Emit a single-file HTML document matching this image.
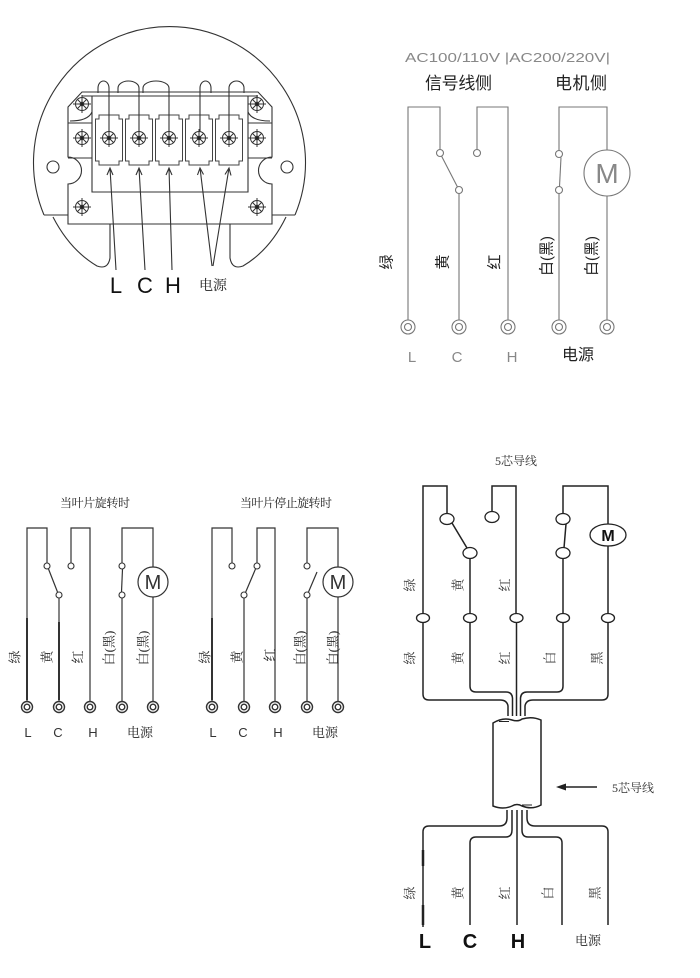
<!DOCTYPE html>
<html><head><meta charset="utf-8"><style>
html,body{margin:0;padding:0;background:#fff;}
svg{display:block;}
.s{font-family:"Liberation Sans","Noto Sans CJK SC",sans-serif;}
.sf{font-family:"Liberation Serif","Noto Serif CJK SC",serif;}
</style></head><body>
<svg width="700" height="978" viewBox="0 0 700 978" xmlns="http://www.w3.org/2000/svg">
<rect width="700" height="978" fill="#fff"/>
<defs>
<g id="sc" stroke="#333" stroke-width="1" fill="none"><circle r="6.5"/><path d="M-9,0H9M0,-9V9M-4.6,-4.6L4.6,4.6M-4.6,4.6L4.6,-4.6"/><circle r="1.8" fill="#222"/></g>
<g id="tb" stroke="#444" stroke-width="1" fill="#fff"><path d="M-10,115H10V119H13.5V161H10V165H-10V161H-13.5V119H-10Z"/></g>
<g id="tr1" stroke="#777" stroke-width="1.1" fill="#fff"><circle r="7"/><circle r="3.5"/></g>
<g id="tr2" stroke="#333" stroke-width="1.4" fill="#fff"><circle r="5.5"/><circle r="2.8"/></g>
</defs>

<!-- ===== TOP LEFT: terminal box ===== -->
<g stroke="#333" stroke-width="1.1" fill="none">
<path d="M44,215 A136,136 0 1 1 295,215"/>
<path d="M44,215H68M295,215H272"/>
<path d="M68,107 L82,92 H258 L272,107 V157 A13.5,13.5 0 0 0 272,184 V224 H68 V184 A13.5,13.5 0 0 0 68,157 Z"/>
<path d="M53,217 Q70,250 97,266 Q108,270 110,258 V224"/>
<path d="M286,217 Q270,250 243,266 Q232,270 230,258 V224"/>
<circle cx="53" cy="167" r="6"/>
<circle cx="287" cy="167" r="6"/>
<path d="M82,96H258M92,96V192H248V96"/>
<path d="M68,123H92M248,123H272M68,158H92M248,158H272"/>
<path d="M70,121 Q88,121 92,112M270,121 Q252,121 248,112"/>
</g>
<use href="#sc" x="82" y="104"/><use href="#sc" x="82" y="138"/><use href="#sc" x="82" y="207"/>
<use href="#sc" x="257" y="104"/><use href="#sc" x="257" y="138"/><use href="#sc" x="257" y="207"/>
<use href="#tb" x="109"/><use href="#tb" x="139"/><use href="#tb" x="169"/><use href="#tb" x="199"/><use href="#tb" x="229"/>
<use href="#sc" x="109" y="138"/><use href="#sc" x="139" y="138"/><use href="#sc" x="169" y="138"/><use href="#sc" x="199" y="138"/><use href="#sc" x="229" y="138"/>
<g stroke="#333" stroke-width="1.1" fill="none">
<path d="M109,132V88 A5.5,7 0 0 0 98,88 V93"/>
<path d="M139,132V88 A10.5,7 0 0 0 118,88 V93"/>
<path d="M169,132V88 A13,7 0 0 0 143,88 V93"/>
<path d="M200,132V88 A5.5,7 0 0 1 211,88 V93"/>
<path d="M229,132V88 A7.5,7 0 0 1 244,88 V93"/>
<!-- arrows -->
<path d="M116,270 L110,168 M107,175 L110,168 L113,175"/>
<path d="M145,270 L139,168 M136,175 L139,168 L142,175"/>
<path d="M172,270 L169,168 M166,175 L169,168 L172,175"/>
<path d="M212,266 L200,168 M197.5,175 L200,168 L203.5,174.5"/>
<path d="M213,266 L229,168 M225,174.5 L229,168 L231,175.5"/>
</g>
<g class="s" fill="#111" font-size="22" text-anchor="middle">
<text x="116" y="293">L</text><text x="145" y="293">C</text><text x="173" y="293">H</text>
</g>
<text class="sf" x="213" y="290" font-size="14" text-anchor="middle" fill="#222">电源</text>

<!-- ===== TOP RIGHT ===== -->
<text class="s" x="405" y="62" font-size="13" fill="#888" textLength="205" lengthAdjust="spacingAndGlyphs">AC100/110V |AC200/220V|</text>
<text class="s" x="425" y="89" font-size="17" fill="#222" textLength="67">信号线侧</text>
<text class="s" x="555" y="89" font-size="17" fill="#222" textLength="52">电机侧</text>
<g stroke="#777" stroke-width="1.1" fill="none">
<path d="M408,320 V107 H440 V149.5"/>
<path d="M441.5,156 L457.5,187"/>
<path d="M459,193.5 V320"/>
<path d="M477,149.5 V107 H508 V320"/>
<path d="M559,150.5 V107 H607 V150"/>
<path d="M561,157.5 L559.5,186.5"/>
<path d="M559,193.5 V320"/>
<path d="M607,196 V320"/>
<circle cx="607" cy="173" r="23"/>
</g>
<g stroke="#777" stroke-width="1.1" fill="#fff">
<circle cx="440" cy="153" r="3.5"/><circle cx="459" cy="190" r="3.5"/><circle cx="477" cy="153" r="3.5"/>
<circle cx="559" cy="154" r="3.5"/><circle cx="559" cy="190" r="3.5"/>
</g>
<text class="s" x="607" y="183" font-size="28" fill="#888" text-anchor="middle" font-weight="300">M</text>
<use href="#tr1" x="408" y="327"/><use href="#tr1" x="459" y="327"/><use href="#tr1" x="508" y="327"/><use href="#tr1" x="559" y="327"/><use href="#tr1" x="607" y="327"/>
<g class="s" font-size="15" fill="#222" text-anchor="middle" dominant-baseline="central">
<text transform="translate(387,262) rotate(-90)">绿</text>
<text transform="translate(443,262) rotate(-90)">黄</text>
<text transform="translate(495,262) rotate(-90)">红</text>
<text transform="translate(547,256) rotate(-90)">白(黑)</text>
<text transform="translate(592,256) rotate(-90)">白(黑)</text>
</g>
<g class="s" font-size="15" fill="#888" text-anchor="middle">
<text x="412" y="362">L</text><text x="457" y="362">C</text><text x="512" y="362">H</text>
</g>
<text class="s" x="578" y="360" font-size="16" fill="#222" text-anchor="middle">电源</text>

<!-- ===== BOTTOM LEFT ===== -->
<text class="sf" x="95" y="507" font-size="12" fill="#222" text-anchor="middle" textLength="70">当叶片旋转时</text>
<g stroke="#333" stroke-width="1.2" fill="none">
<path d="M27,701 V528 H47 V563"/>
<path d="M48.5,569 L57.5,592"/>
<path d="M59,598 V701"/>
<path d="M71,563 V528 H90 V701"/>
<path d="M122,563 V528 H153 V567"/>
<path d="M122.5,569 L121.5,592"/>
<path d="M122,598 V701"/>
<path d="M153,597 V701"/>
<circle cx="153" cy="582" r="15"/>
<path d="M27,618V700M59,622V700" stroke-width="2"/>
</g>
<g stroke="#333" stroke-width="1.1" fill="#fff">
<circle cx="47" cy="566" r="3"/><circle cx="59" cy="595" r="3"/><circle cx="71" cy="566" r="3"/>
<circle cx="122" cy="566" r="3"/><circle cx="122" cy="595" r="3"/>
</g>
<text class="s" x="153" y="589" font-size="20" fill="#333" text-anchor="middle" font-weight="300">M</text>
<use href="#tr2" x="27" y="707"/><use href="#tr2" x="59" y="707"/><use href="#tr2" x="90" y="707"/><use href="#tr2" x="122" y="707"/><use href="#tr2" x="153" y="707"/>
<g class="sf" font-size="13" fill="#222" text-anchor="middle" dominant-baseline="central">
<text transform="translate(15,657) rotate(-90)">绿</text>
<text transform="translate(47,657) rotate(-90)">黄</text>
<text transform="translate(78,657) rotate(-90)">红</text>
<text transform="translate(109,648) rotate(-90)">白(黑)</text>
<text transform="translate(143,648) rotate(-90)">白(黑)</text>
</g>
<g class="s" font-size="13" fill="#333" text-anchor="middle">
<text x="28" y="737">L</text><text x="58" y="737">C</text><text x="93" y="737">H</text>
</g>
<text class="sf" x="140" y="737" font-size="13" fill="#222" text-anchor="middle">电源</text>

<!-- ===== BOTTOM MIDDLE ===== -->
<text class="sf" x="286" y="507" font-size="12" fill="#222" text-anchor="middle" textLength="92">当叶片停止旋转时</text>
<g stroke="#333" stroke-width="1.2" fill="none">
<path d="M212,701 V528 H232 V563"/>
<path d="M244,598 V701"/>
<path d="M245.5,592.5 L255.5,569"/>
<path d="M257,563 V528 H275 V701"/>
<path d="M307,563 V528 H338 V567"/>
<path d="M308.5,592 L317,572"/>
<path d="M307,598 V701"/>
<path d="M338,597 V701"/>
<circle cx="338" cy="582" r="15"/>
<path d="M212,618V700" stroke-width="2"/>
</g>
<g stroke="#333" stroke-width="1.1" fill="#fff">
<circle cx="232" cy="566" r="3"/><circle cx="244" cy="595" r="3"/><circle cx="257" cy="566" r="3"/>
<circle cx="307" cy="566" r="3"/><circle cx="307" cy="595" r="3"/>
</g>
<text class="s" x="338" y="589" font-size="20" fill="#333" text-anchor="middle" font-weight="300">M</text>
<use href="#tr2" x="212" y="707"/><use href="#tr2" x="244" y="707"/><use href="#tr2" x="275" y="707"/><use href="#tr2" x="307" y="707"/><use href="#tr2" x="338" y="707"/>
<g class="sf" font-size="13" fill="#222" text-anchor="middle" dominant-baseline="central">
<text transform="translate(205,657) rotate(-90)">绿</text>
<text transform="translate(237,657) rotate(-90)">黄</text>
<text transform="translate(270,655) rotate(-90)">红</text>
<text transform="translate(300,648) rotate(-90)">白(黑)</text>
<text transform="translate(333,648) rotate(-90)">白(黑)</text>
</g>
<g class="s" font-size="13" fill="#333" text-anchor="middle">
<text x="213" y="737">L</text><text x="243" y="737">C</text><text x="278" y="737">H</text>
</g>
<text class="sf" x="325" y="737" font-size="13" fill="#222" text-anchor="middle">电源</text>

<!-- ===== BOTTOM RIGHT ===== -->
<text class="sf" x="516" y="465" font-size="12" fill="#333" text-anchor="middle">5芯导线</text>
<g stroke="#222" stroke-width="1.5" fill="none">
<path d="M423,614 V486 H447 V513.5"/>
<path d="M452,523 L467,548"/>
<path d="M470,558.5 V614"/>
<path d="M492,511.5 V486 H516 V614"/>
<path d="M563,513.5 V486 H608 V524"/>
<path d="M566,524 L564,548"/>
<path d="M563,558.5 V614"/>
<path d="M608,546 V614"/>
<path d="M423,622 V694 Q423,700 429,700 H500 Q507,700 508,706 V716"/>
<path d="M470,622 V686 Q470,692 476,692 H506 Q512,692 512.5,698 V716"/>
<path d="M516.5,622 V716"/>
<path d="M563,622 V686 Q563,692 557,692 H527 Q521,692 520.5,698 V716"/>
<path d="M608,622 V694 Q608,700 602,700 H533 Q526,700 525,706 V716"/>
<path d="M493,723 Q503,717 512,720 Q518,722 522,719 Q532,716 541,720 V805 Q532,810 522,806 Q517,803 512,806 Q503,810 493,806 Z" fill="#fff"/>
<path d="M499,721.5 H509 M522,805 H532" stroke-width="1"/>
<path d="M507,810 V818 Q507,826 499,826 H429 Q423,826 423,832 V927"/>
<path d="M512,810 V830 Q512,837 506,837 H476 Q470,837 470,843 V925"/>
<path d="M517,810 V925"/>
<path d="M522,810 V830 Q522,837 528,837 H556 Q562,837 562,843 V925"/>
<path d="M527,810 V818 Q527,826 535,826 H602 Q608,826 608,832 V925"/>
<path d="M423,850V866M423,905V925" stroke-width="2.5"/>
<path d="M562,787 H597"/>
</g>
<path d="M556,787 L566,783.5 L566,790.5 Z" fill="#222"/>
<text class="sf" x="612" y="792" font-size="12" fill="#333">5芯导线</text>
<g stroke="#222" stroke-width="1.3" fill="#fff">
<ellipse cx="447" cy="519" rx="7" ry="5.5"/><ellipse cx="470" cy="553" rx="7" ry="5.5"/>
<ellipse cx="492" cy="517" rx="7" ry="5.5"/>
<ellipse cx="563" cy="519" rx="7" ry="5.5"/><ellipse cx="563" cy="553" rx="7" ry="5.5"/>
<ellipse cx="608" cy="535" rx="18" ry="11"/>
<ellipse cx="423" cy="618" rx="6.5" ry="4.5"/><ellipse cx="470" cy="618" rx="6.5" ry="4.5"/>
<ellipse cx="516.5" cy="618" rx="6.5" ry="4.5"/><ellipse cx="563" cy="618" rx="6.5" ry="4.5"/>
<ellipse cx="608" cy="618" rx="6.5" ry="4.5"/>
</g>
<text class="s" x="608" y="541" font-size="16" font-weight="bold" fill="#111" text-anchor="middle">M</text>
<g class="sf" font-size="13" fill="#333" text-anchor="middle" dominant-baseline="central">
<text transform="translate(410,585) rotate(-90)">绿</text>
<text transform="translate(458,585) rotate(-90)">黄</text>
<text transform="translate(505,585) rotate(-90)">红</text>
<text transform="translate(410,658) rotate(-90)">绿</text>
<text transform="translate(458,658) rotate(-90)">黄</text>
<text transform="translate(505,658) rotate(-90)">红</text>
<text transform="translate(550,658) rotate(-90)">白</text>
<text transform="translate(597,658) rotate(-90)">黑</text>
<text transform="translate(410,893) rotate(-90)">绿</text>
<text transform="translate(458,893) rotate(-90)">黄</text>
<text transform="translate(505,893) rotate(-90)">红</text>
<text transform="translate(548,893) rotate(-90)">白</text>
<text transform="translate(595,893) rotate(-90)">黑</text>
</g>
<g class="s" font-size="20" font-weight="bold" fill="#111" text-anchor="middle">
<text x="425" y="948">L</text><text x="470" y="948">C</text><text x="518" y="948">H</text>
</g>
<text class="sf" x="588" y="945" font-size="13" fill="#222" text-anchor="middle">电源</text>
</svg>
</body></html>
